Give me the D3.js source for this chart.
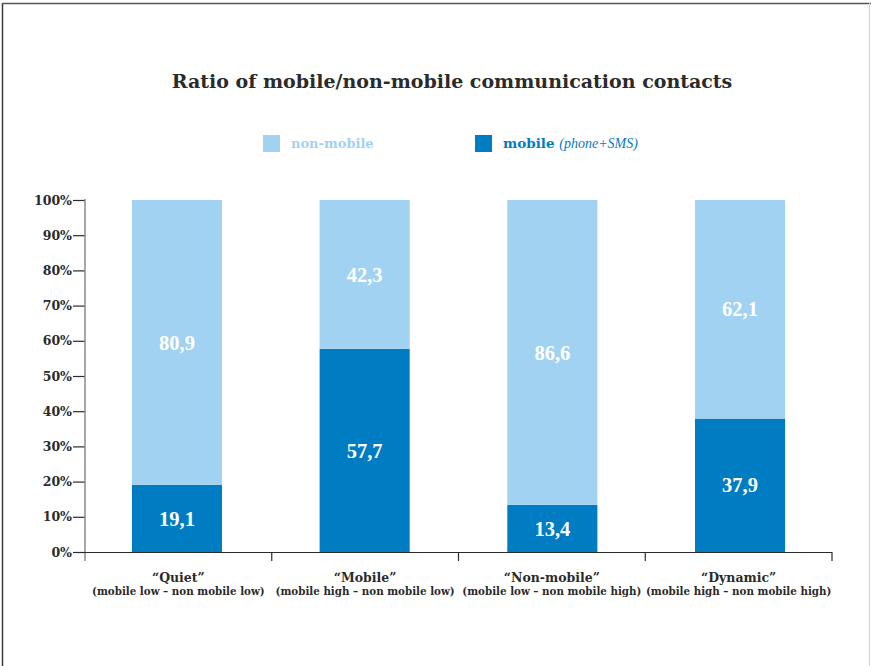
<!DOCTYPE html>
<html>
<head>
<meta charset="utf-8">
<script src="https://cdn.jsdelivr.net/npm/d3@7"></script>
<style>
  html, body { margin: 0; padding: 0; background: #fff; }
  svg { display: block; }
  text { font-family: "DejaVu Serif", serif; font-weight: bold; }
</style>
</head>
<body>
<svg id="chart" width="871" height="666"></svg>
<script>
// Segment shares (%) per communication profile
const categories = ["“Quiet”", "“Mobile”", "“Non-mobile”", "“Dynamic”"];
const subtitles = [
  "(mobile low – non mobile low)",
  "(mobile high – non mobile low)",
  "(mobile low – non mobile high)",
  "(mobile high – non mobile high)"
];
const mobile = [19.1, 57.7, 13.4, 37.9];
const nonMobile = [80.9, 42.3, 86.6, 62.1];
const yTicks = [0, 10, 20, 30, 40, 50, 60, 70, 80, 90, 100];

const colors = { mobile: "#007cc3", nonMobile: "#a2d2f1" };
const ink = "#2b2b2b";
const timesFace = "'Liberation Serif', 'Times New Roman', serif";

const svg = d3.select("#chart");

// frame around the figure
svg.append("line").attr("x1", 2.5).attr("x2", 2.5).attr("y1", 3).attr("y2", 666)
  .attr("stroke", "#3a3a3a").attr("stroke-width", 1.5);
svg.append("line").attr("x1", 2).attr("x2", 871).attr("y1", 3.5).attr("y2", 3.5)
  .attr("stroke", "#555").attr("stroke-width", 1.5);
svg.append("line").attr("x1", 869.5).attr("x2", 869.5).attr("y1", 3).attr("y2", 666)
  .attr("stroke", "#d4d4d4").attr("stroke-width", 1);

// title
svg.append("text").attr("x", 452).attr("y", 88).attr("text-anchor", "middle")
  .attr("font-size", 19).attr("fill", ink)
  .text("Ratio of mobile/non-mobile communication contacts");

// legend
const legend = svg.append("g");
legend.append("rect").attr("x", 263).attr("y", 135).attr("width", 17).attr("height", 17)
  .attr("fill", colors.nonMobile);
legend.append("text").attr("x", 291).attr("y", 148).attr("font-size", 13)
  .attr("fill", colors.nonMobile).text("non-mobile");
legend.append("rect").attr("x", 475).attr("y", 135).attr("width", 17).attr("height", 17)
  .attr("fill", colors.mobile);
const lt = legend.append("text").attr("x", 503).attr("y", 148).attr("font-size", 13.5)
  .attr("fill", colors.mobile);
lt.append("tspan").text("mobile ");
lt.append("tspan").style("font-style", "italic").style("font-weight", "normal")
  .style("font-family", timesFace)
  .attr("font-size", 14).text("(phone+SMS)");

// scales
const x = d3.scaleBand().domain(categories).range([85, 832]).paddingInner(0.52).paddingOuter(0.25);
const xGroup = d3.scaleBand().domain(categories).range([85, 832]).padding(0);
const y = d3.scaleLinear().domain([0, 100]).range([552, 200]);

// y axis
const yAxis = svg.append("g").attr("transform", "translate(85,0)")
  .call(d3.axisLeft(y).tickValues(yTicks).tickFormat(d => d + "%").tickSize(12).tickPadding(1));
yAxis.select(".domain").remove();
yAxis.selectAll(".tick line").attr("stroke", ink).attr("stroke-width", 1.2);
yAxis.selectAll(".tick text").attr("font-size", 12.5).attr("fill", ink);
svg.append("line").attr("x1", 85).attr("x2", 85).attr("y1", 199).attr("y2", 561)
  .attr("stroke", "#8a8a8a").attr("stroke-width", 1.5);

// bars
const rows = categories.map((c, i) => ({ cat: c, mobile: mobile[i], nonMobile: nonMobile[i] }));
const stack = d3.stack().keys(["mobile", "nonMobile"])(rows);

const layers = svg.append("g").selectAll("g").data(stack).join("g")
  .attr("fill", d => colors[d.key]);
layers.selectAll("rect").data(d => d).join("rect")
  .attr("x", d => x(d.data.cat))
  .attr("width", x.bandwidth())
  .attr("y", d => y(d[1]))
  .attr("height", d => y(d[0]) - y(d[1]));

// value labels centred in each segment
layers.each(function(layer) {
  d3.select(this).selectAll("text").data(layer).join("text")
    .attr("x", d => x(d.data.cat) + x.bandwidth() / 2)
    .attr("y", d => (y(d[0]) + y(d[1])) / 2)
    .attr("dy", "0.35em")
    .attr("text-anchor", "middle")
    .style("font-family", timesFace)
    .attr("font-size", 20.5)
    .attr("fill", "#fff")
    .text(d => d3.format(".1f")(d.data[layer.key]).replace(".", ","));
});

// x baseline with group separators
svg.append("line").attr("x1", 73).attr("x2", 832).attr("y1", 552.5).attr("y2", 552.5)
  .attr("stroke", ink).attr("stroke-width", 1.2);
const seps = categories.map(c => xGroup(c)).concat([xGroup.range()[1]]);
svg.append("g").selectAll("line").data(seps.slice(1)).join("line")
  .attr("x1", d => d).attr("x2", d => d).attr("y1", 552).attr("y2", 561)
  .attr("stroke", ink).attr("stroke-width", 1.2);

// category labels
const cl = svg.append("g").selectAll("g").data(categories).join("g")
  .attr("transform", c => `translate(${xGroup(c) + xGroup.bandwidth() / 2},0)`);
cl.append("text").attr("y", 582).attr("text-anchor", "middle").attr("font-size", 12.5)
  .attr("fill", ink).text(d => d);
cl.append("text").attr("y", 595).attr("text-anchor", "middle").attr("font-size", 10.3)
  .attr("fill", ink).text((d, i) => subtitles[i]);
</script>
</body>
</html>
